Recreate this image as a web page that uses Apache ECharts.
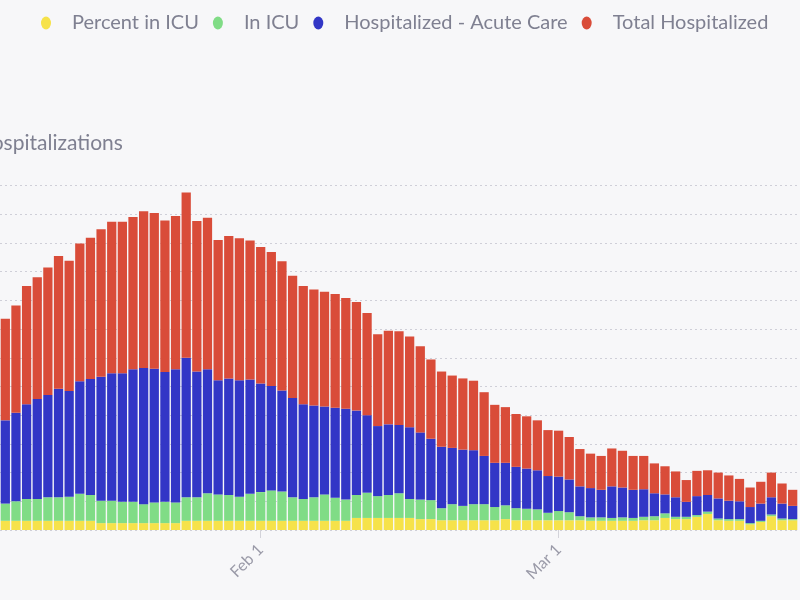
<!DOCTYPE html>
<html>
<head>
<meta charset="utf-8">
<script src="https://cdn.jsdelivr.net/npm/echarts@6/dist/echarts.min.js"></script>
<style>
html,body{margin:0;padding:0;background:#f7f7f9;}
#chart{width:800px;height:600px;}
</style>
</head>
<body>
<div id="chart"></div>
<script>
const categories = [
 "Jan 8","Jan 9","Jan 10","Jan 11","Jan 12","Jan 13","Jan 14","Jan 15","Jan 16","Jan 17","Jan 18","Jan 19","Jan 20","Jan 21","Jan 22","Jan 23","Jan 24","Jan 25","Jan 26","Jan 27","Jan 28","Jan 29","Jan 30","Jan 31",
 "Feb 1","Feb 2","Feb 3","Feb 4","Feb 5","Feb 6","Feb 7","Feb 8","Feb 9","Feb 10","Feb 11","Feb 12","Feb 13","Feb 14","Feb 15","Feb 16","Feb 17","Feb 18","Feb 19","Feb 20","Feb 21","Feb 22","Feb 23","Feb 24","Feb 25","Feb 26","Feb 27","Feb 28",
 "Mar 1","Mar 2","Mar 3","Mar 4","Mar 5","Mar 6","Mar 7","Mar 8","Mar 9","Mar 10","Mar 11","Mar 12","Mar 13","Mar 14","Mar 15","Mar 16","Mar 17","Mar 18","Mar 19","Mar 20","Mar 21","Mar 22","Mar 23"
];
const percentInICU = [16,16,16,16,16,16,16,16,16,12,12,12,12,12,12,12,12,16,16,16,16,16,16,16,16,16,16,16,16,16,16,16,16,21,21,21,21,21,21,19,19,17,17,17,17,17,17,19,17,17,17,17,17,17,17,16,16,16,16,16,17,17,21,19,19,23,28,17,16,16,10,14,24,17,17];
const inICU = [30,34,38,38,41,41,42,47,45,39,39,37,37,33,36,37,36,41,41,48,46,45,42,47,50,53,51,41,38,41,46,40,37,40,44,38,40,43,33,34,33,21,28,25,28,28,23,24,21,20,19,13,16,14,7,6,6,5,6,5,6,7,8,4,4,3,4,3,3,3,2,2,3,3,2];
const acuteCare = [145,154,165,174,178,189,184,196,202,216,222,224,231,237,233,226,232,243,219,216,199,203,203,199,189,182,176,173,165,160,153,157,158,147,135,122,123,119,125,117,107,107,98,98,94,84,77,74,72,70,68,64,60,57,52,51,48,55,52,49,48,40,33,34,26,33,29,35,32,31,28,30,30,26,23];
const totalHospitalized = [177,187,206,212,222,231,227,240,246,257,264,264,265,273,271,264,267,288,262,264,244,248,247,242,238,233,225,213,206,202,200,198,193,189,178,160,163,163,158,150,138,131,126,124,121,111,101,97,92,91,87,80,80,74,65,60,59,66,64,59,58,52,49,45,38,44,43,45,44,39,34,38,43,35,28];
const monthTicks = ["Feb 1","Mar 1"];

const chart = echarts.init(document.getElementById('chart'), null, {renderer:'canvas'});
const FONT = 'Lato';
const DOT = 'path://M5,0 A5,6.5 0 1,1 5,13 A5,6.5 0 1,1 5,0 Z';
function mk(name, data, color){
  return {name, type:'bar', stack:'h', data, barCategoryGap:'13%',
    itemStyle:{color}, emphasis:{disabled:true}};
}
chart.setOption({
  backgroundColor:'#f7f7f9',
  animation:false,
  title:{text:'Hospitalizations', left:-29, top:128,
    textStyle:{fontFamily:FONT, fontSize:21, fontWeight:'normal', color:'#7f8091'}},
  legend:{left:36, top:8, itemWidth:10, itemHeight:13, itemGap:14, icon:DOT,
    textStyle:{fontFamily:FONT, fontSize:20, color:'#7f8091', padding:[0,0,0,16]}},
  grid:{left:-3, right:2, top:185.5, bottom:70, containLabel:false},
  xAxis:{type:'category', data:categories,
    axisLine:{show:false},
    axisTick:{show:true, alignWithLabel:true, length:8, lineStyle:{color:'#d3d3da'},
      interval:(i,v)=>monthTicks.includes(v)},
    axisLabel:{rotate:45, margin:17, fontFamily:FONT, fontSize:16, color:'#9a9aa8',
      interval:(i,v)=>monthTicks.includes(v)}},
  yAxis:{type:'value', min:0, max:600, interval:50,
    axisLabel:{show:false}, axisLine:{show:false}, axisTick:{show:false},
    splitLine:{show:true, lineStyle:{color:'#cfcfd8', width:1, type:[2,3]}}},
  series:[
    mk('Percent in ICU', percentInICU, '#f6e24a'),
    mk('In ICU', inICU, '#80dc86'),
    mk('Hospitalized - Acute Care', acuteCare, '#3236c6'),
    mk('Total Hospitalized', totalHospitalized, '#d94c39')
  ]
});
</script>
</body>
</html>
